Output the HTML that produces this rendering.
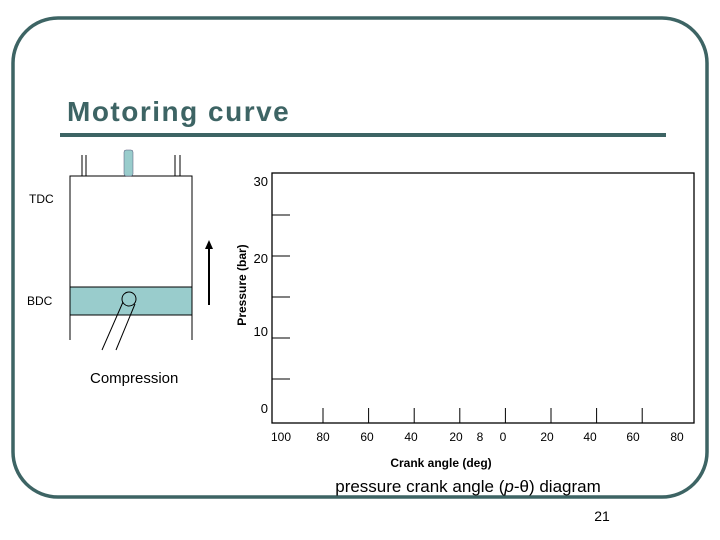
<!DOCTYPE html>
<html><head><meta charset="utf-8"><style>
body{margin:0;background:#fff;}
svg{display:block;font-family:"Liberation Sans",sans-serif;}
</style></head><body>
<svg id="s" width="720" height="540" viewBox="0 0 720 540">
<rect x="13" y="18" width="694" height="479" rx="45" ry="45" fill="none" stroke="#3d6464" stroke-width="3.5"/>
<text x="67" y="121" font-size="28" font-weight="bold" fill="#3d6464" letter-spacing="1.5">Motoring curve</text>
<rect x="60" y="133" width="606" height="4" fill="#3d6464"/>
<g stroke="#000" stroke-width="1" fill="none">
<line x1="82" y1="155" x2="82" y2="176"/><line x1="86" y1="155" x2="86" y2="176"/>
<line x1="175" y1="155" x2="175" y2="176"/><line x1="180" y1="155" x2="180" y2="176"/>
<path d="M70 340 L70 176 L192 176 L192 340"/>
<rect x="70" y="287" width="122" height="28" fill="#99cccc"/>
<circle cx="129" cy="299" r="7"/>
<line x1="123" y1="302" x2="102" y2="350"/><line x1="135" y1="304" x2="116" y2="350"/>
<line x1="209" y1="305" x2="209" y2="248" stroke-width="2"/>
</g>
<rect x="124" y="150" width="9" height="26" rx="2" fill="#99cccc" stroke="#557" stroke-width="0.5"/>
<polygon points="209,240 205,249 213,249" fill="#000"/>
<text x="29" y="203" font-size="12">TDC</text>
<text x="27" y="305" font-size="12">BDC</text>
<text x="90" y="383" font-size="15">Compression</text>
<text transform="translate(246,285) rotate(-90)" text-anchor="middle" font-size="12" font-weight="bold">Pressure (bar)</text>
<rect x="272" y="173" width="422" height="250" fill="none" stroke="#000" stroke-width="1.3"/>
<g id="axes"></g>
<text x="441" y="467" text-anchor="middle" font-size="12" font-weight="bold">Crank angle (deg)</text>
<text x="468" y="492" text-anchor="middle" font-size="17">pressure crank angle (<tspan font-style="italic">p</tspan>-θ) diagram</text>
<text x="602" y="521" text-anchor="middle" font-size="14">21</text>
</svg>
<script>
const yTickValues=[25,20,15,10,5];
const yLabelValues=["30","20","10","0"];
const xTickValues=[80,60,40,20,0,-20,-40,-60];
const xLabels=["100","80","60","40","20","8","0","20","40","60","80"];
const g=document.getElementById('axes');
const NS='http://www.w3.org/2000/svg';
function yScale(v){return 420-v*8.2;}
function xScale(v){return 323+(80-v)*2.28;}
function el(t,a){const e=document.createElementNS(NS,t);for(const k in a)e.setAttribute(k,a[k]);g.appendChild(e);return e;}
yTickValues.forEach(v=>{const e=el('line',{x1:272,x2:290,y1:yScale(v),y2:yScale(v),stroke:'#000'});

});
const yLabY=[186,263,336,413];
yLabelValues.forEach((t,i)=>{const e=el('text',{x:268,y:yLabY[i],'text-anchor':'end','font-size':13});e.textContent=t;

});
xTickValues.forEach(v=>{const e=el('line',{x1:xScale(v),x2:xScale(v),y1:408,y2:423,stroke:'#000'});

});
const xLabX=[281,323,367,411,456,480,503,547,590,633,677];
xLabels.forEach((t,i)=>{const e=el('text',{x:xLabX[i],y:441,'text-anchor':'middle','font-size':12});e.textContent=t;

});
</script>
</body></html>
